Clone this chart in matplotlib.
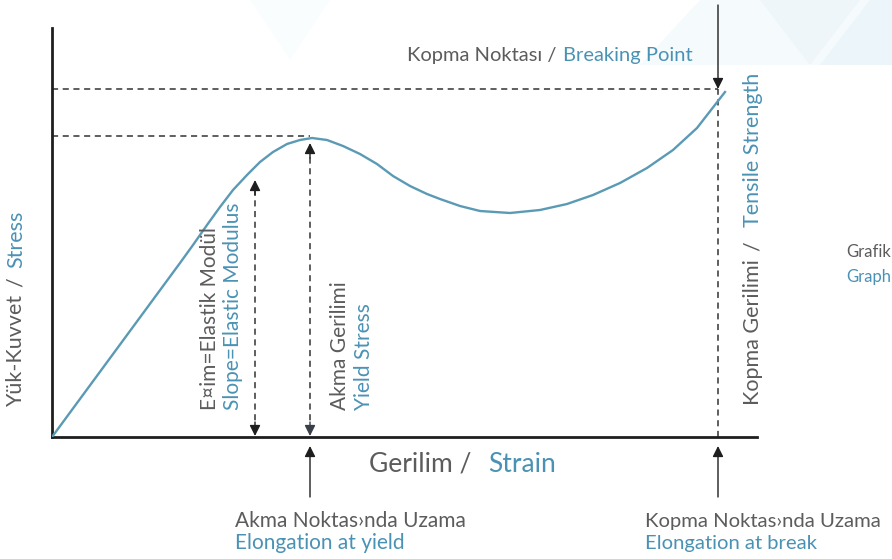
import matplotlib
matplotlib.use("Agg")
import matplotlib.pyplot as plt
from matplotlib.patches import Polygon

plt.rcParams['font.family'] = ['Lato', 'DejaVu Sans']

# egri verisi (birim: keyfi)
strain = [0, 12.8, 14.1, 15.5, 16.8, 18.1, 19.5, 20.8, 22.1, 23.5, 24.8, 26.0,
          27.5, 29.1, 30.8, 32.5, 34.1, 35.8, 37.5, 38.8, 40.8, 42.8, 45.8,
          48.8, 51.5, 54.1, 56.8, 59.5, 62.1, 64.5, 66.6, 67.3]
stress = [0, 17.4, 19.2, 21.2, 23.0, 24.7, 26.2, 27.5, 28.5, 29.3, 29.7, 29.9,
          29.7, 29.1, 28.3, 27.3, 26.1, 25.1, 24.3, 23.8, 23.1, 22.6, 22.4,
          22.7, 23.3, 24.2, 25.4, 26.9, 28.7, 30.9, 33.6, 34.5]

yield_strain, yield_stress = 25.8, 30.1
break_strain, break_stress = 66.6, 34.8
slope_x, slope_top = 20.3, 25.7

GRAY = '#5c5c5c'
BLUE = '#4a92b4'
LINE = '#5b9ab5'
DARK = '#1e1e1e'

W, H = 892, 559
fig = plt.figure(figsize=(W / 100, H / 100), dpi=100)
fig.patch.set_facecolor('white')


def fx(x):
    return x / W


def fy(y):
    return 1 - y / H


# soluk arka plan ucgenleri
for pts, c in [
    ([(250, 0), (330, 0), (290, 60)], '#fafdfe'),
    ([(640, 65), (700, 0), (892, 0), (892, 65)], '#f5fafc'),
    ([(760, 0), (810, 65), (860, 0)], '#eef6fa'),
    ([(820, 65), (870, 0), (892, 0), (892, 65)], '#ecf5fa'),
]:
    fig.add_artist(Polygon([(fx(a), fy(b)) for a, b in pts], closed=True,
                           transform=fig.transFigure, facecolor=c,
                           edgecolor='none', zorder=0))

ax = fig.add_axes([fx(52), fy(437), (757 - 52) / W, (437 - 28) / H])
ax.set_xlim(0, 70.5)
ax.set_ylim(0, 40.9)
ax.patch.set_alpha(0)
for s in ['top', 'right']:
    ax.spines[s].set_visible(False)
for s in ['left', 'bottom']:
    ax.spines[s].set_linewidth(2.0)
    ax.spines[s].set_color(DARK)
ax.set_xticks([])
ax.set_yticks([])

ax.plot(strain, stress, color=LINE, lw=1.7, zorder=3, solid_joinstyle='round')

dash = dict(color='#333333', lw=1.1, ls=(0, (4, 3)), zorder=2)
ax.plot([0, yield_strain], [yield_stress, yield_stress], **dash)
ax.plot([0, break_strain], [break_stress, break_stress], **dash)
ax.plot([break_strain, break_strain], [0, break_stress], **dash)
ax.plot([slope_x, slope_x], [0.6, slope_top - 0.6], **dash)
ax.plot([yield_strain, yield_strain], [0.6, yield_stress - 1.2], **dash)


def head(x, y_from, y_to, color=DARK):
    ax.annotate('', xy=(x, y_to), xytext=(x, y_from), annotation_clip=False,
                arrowprops=dict(arrowstyle='-|>', color=color, lw=1.0,
                                mutation_scale=16, shrinkA=0, shrinkB=0))


head(slope_x, slope_top - 1.5, slope_top)
head(slope_x, 1.5, 0.1)
head(yield_strain, yield_stress - 2.2, yield_stress - 0.7)
head(yield_strain, 1.5, 0.1, '#3a3f48')

# kopma noktasi oku ve alt oklar
head(break_strain, 43.2, break_stress)
head(yield_strain, -6.0, -0.9)
head(break_strain, -6.0, -0.9)


def txt(x, y, s, color, size, rot=0, **kw):
    fig.text(fx(x), fy(y), s, color=color, fontsize=size, rotation=rot,
             rotation_mode='anchor', ha='left', va='center', **kw)


# ust baslik
txt(407, 56, 'Kopma Noktası /', GRAY, 14.5)
txt(563, 56, 'Breaking Point', BLUE, 14.5)

# x ekseni
txt(369, 464, 'Gerilim /', GRAY, 19)
txt(488, 464, 'Strain', BLUE, 19)

# y ekseni
txt(16, 407, 'Yük-Kuvvet', GRAY, 15.5, 90)
txt(16, 287, '/', GRAY, 15.5, 90)
txt(16, 268, 'Stress', BLUE, 15.5, 90)

txt(753, 405, 'Kopma Gerilimi', GRAY, 15.5, 90)
txt(753, 251, '/', GRAY, 15.5, 90)
txt(753, 227, 'Tensile Strength', BLUE, 15.5, 90)

# ic etiketler
txt(210, 410, 'E¤im=Elastik Modül', GRAY, 15, 90)
txt(233, 410, 'Slope=Elastic Modulus', BLUE, 15, 90)
txt(340, 410, 'Akma Gerilimi', GRAY, 15, 90)
txt(364, 410, 'Yield Stress', BLUE, 15, 90)

# alt etiketler
txt(235, 521, 'Akma Noktas›nda Uzama', GRAY, 15)
txt(235, 543, 'Elongation at yield', BLUE, 15)
txt(645, 521, 'Kopma Noktas›nda Uzama', GRAY, 14.6)
txt(645, 543, 'Elongation at break', BLUE, 14.6)

# sag kenar
txt(846, 252, 'Grafik', GRAY, 12)
txt(846, 277, 'Graph', BLUE, 12)

fig.savefig('out.png', dpi=100)
